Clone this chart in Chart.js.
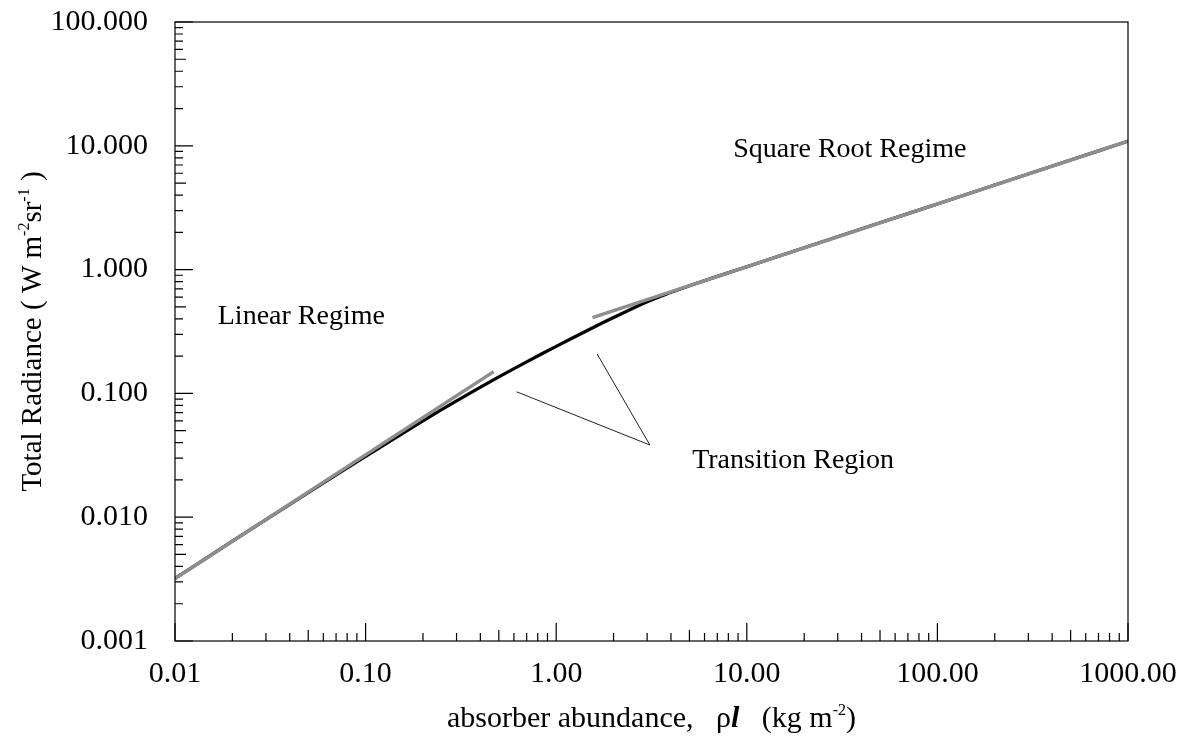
<!DOCTYPE html>
<html>
<head>
<meta charset="utf-8">
<script src="https://cdn.jsdelivr.net/npm/chart.js@4/dist/chart.umd.min.js"></script>
<style>
  body { margin: 0; background: #fff; }
  #wrap { width: 1183px; height: 740px; }
</style>
</head>
<body>
<div id="wrap"><canvas id="radianceChart" width="1183" height="740"></canvas></div>
<script>
// curve of growth: total radiance vs absorber abundance
const abundance = [0.01, 0.02, 0.05, 0.1, 0.2, 0.3, 0.5, 0.7, 1.0, 1.5, 2.0, 3.0, 4.0, 5.0, 10, 20, 50, 100, 200, 500, 1000];
const radiance = [0.0032, 0.0064, 0.0158, 0.031, 0.060, 0.087, 0.136, 0.18, 0.24, 0.33, 0.41, 0.55, 0.655, 0.742, 1.055, 1.50, 2.39, 3.39, 4.82, 7.67, 10.9];

// asymptotes
const linearX = [0.01, 0.47];
const linearY = [0.0032, 0.150];
const sqrtX = [1.55, 1000];
const sqrtY = [0.41, 10.9];

// pointer lines for the transition label
const pointerAX = [0.62, 3.1];
const pointerAY = [0.103, 0.0383];
const pointerBX = [1.64, 3.1];
const pointerBY = [0.208, 0.0383];

const xTickValues = [0.01, 0.1, 1, 10, 100, 1000];
const xTickLabels = ['0.01', '0.10', '1.00', '10.00', '100.00', '1000.00'];
const yTickValues = [0.001, 0.01, 0.1, 1, 10, 100];
const yTickLabels = ['0.001', '0.010', '0.100', '1.000', '10.000', '100.000'];

const notes = [
    { text: 'Linear Regime', x: 0.046, y: 0.42 },
    { text: 'Square Root Regime', x: 34.7, y: 9.25 },
    { text: 'Transition Region', x: 17.5, y: 0.0284 }
];

const FONT = '"Liberation Serif", "Times New Roman", serif';

function pts(xs, ys) {
    return xs.map((x, i) => ({ x: x, y: ys[i] }));
}

// inward log ticks, frame, notes and axis titles
const decorations = {
    id: 'decorations',
    afterDraw(chart) {
        const ctx = chart.ctx;
        const a = chart.chartArea;
        const xs = chart.scales.x, ys = chart.scales.y;
        ctx.save();
        ctx.strokeStyle = '#000';
        ctx.lineWidth = 1.2;
        ctx.strokeRect(a.left, a.top, a.right - a.left, a.bottom - a.top);

        ctx.beginPath();
        for (let d = -2; d <= 3; d++) {
            for (let k = 1; k <= 9; k++) {
                const v = k * Math.pow(10, d);
                if (v > 1000.0001) break;
                const px = xs.getPixelForValue(v);
                const len = k === 1 ? 18 : (k === 5 ? 11 : 8);
                ctx.moveTo(px, a.bottom);
                ctx.lineTo(px, a.bottom - len);
            }
        }
        for (let d = -3; d <= 2; d++) {
            for (let k = 1; k <= 9; k++) {
                const v = k * Math.pow(10, d);
                if (v > 100.0001) break;
                const py = ys.getPixelForValue(v);
                const len = k === 1 ? 18 : (k === 5 ? 11 : 8);
                ctx.moveTo(a.left, py);
                ctx.lineTo(a.left + len, py);
            }
        }
        ctx.stroke();

        ctx.fillStyle = '#000';
        ctx.font = '28px ' + FONT;
        ctx.textAlign = 'center';
        ctx.textBaseline = 'middle';
        notes.forEach(n => {
            ctx.fillText(n.text, xs.getPixelForValue(n.x), ys.getPixelForValue(n.y));
        });

        // x title
        const xParts = [
            { t: 'absorber abundance,   \u03c1', f: '30px ' + FONT },
            { t: 'l', f: 'italic bold 30px ' + FONT },
            { t: '   (kg m', f: '30px ' + FONT },
            { t: '-2', f: '16px ' + FONT, up: 12 },
            { t: ')', f: '30px ' + FONT }
        ];
        drawParts(ctx, xParts, (a.left + a.right) / 2, 727);

        // y title, rotated
        ctx.save();
        ctx.translate(41, (a.top + a.bottom) / 2);
        ctx.rotate(-Math.PI / 2);
        const yParts = [
            { t: 'Total Radiance ( W m', f: '29px ' + FONT },
            { t: '-2', f: '16px ' + FONT, up: 12 },
            { t: 'sr', f: '29px ' + FONT },
            { t: '-1', f: '16px ' + FONT, up: 12 },
            { t: ' )', f: '29px ' + FONT }
        ];
        drawParts(ctx, yParts, 0, 0);
        ctx.restore();
        ctx.restore();
    }
};

function drawParts(ctx, parts, cx, baseline) {
    let total = 0;
    parts.forEach(p => { ctx.font = p.f; p.w = ctx.measureText(p.t).width; total += p.w; });
    let x = cx - total / 2;
    ctx.textAlign = 'left';
    ctx.textBaseline = 'alphabetic';
    parts.forEach(p => {
        ctx.font = p.f;
        ctx.fillText(p.t, x, baseline - (p.up || 0));
        x += p.w;
    });
}

const ctx = document.getElementById('radianceChart').getContext('2d');
new Chart(ctx, {
    type: 'line',
    data: {
        datasets: [
            {
                data: pts(linearX, linearY),
                borderColor: '#8e8e8e',
                borderWidth: 3.5,
                pointRadius: 0
            },
            {
                data: pts(sqrtX, sqrtY),
                borderColor: '#8e8e8e',
                borderWidth: 3.5,
                pointRadius: 0
            },
            {
                data: pts(abundance, radiance),
                borderColor: '#000',
                borderWidth: 3.2,
                pointRadius: 0,
                tension: 0.35
            },
            {
                data: pts(pointerAX, pointerAY),
                borderColor: '#222',
                borderWidth: 1,
                pointRadius: 0
            },
            {
                data: pts(pointerBX, pointerBY),
                borderColor: '#222',
                borderWidth: 1,
                pointRadius: 0
            }
        ]
    },
    options: {
        responsive: false,
        animation: false,
        layout: { padding: { top: 22, right: 55, left: 0, bottom: 0 } },
        plugins: { legend: { display: false }, tooltip: { enabled: false } },
        scales: {
            x: {
                type: 'logarithmic',
                min: 0.01,
                max: 1000,
                grid: { display: false, drawTicks: false },
                border: { display: false },
                afterBuildTicks: s => { s.ticks = xTickValues.map(v => ({ value: v })); },
                afterFit: s => { s.height = 99; s.paddingLeft = 0; s.paddingRight = 0; },
                ticks: {
                    padding: 15,
                    maxRotation: 0,
                    color: '#000',
                    font: { family: FONT, size: 30 },
                    callback: (v, i) => xTickLabels[i]
                }
            },
            y: {
                type: 'logarithmic',
                min: 0.001,
                max: 100,
                grid: { display: false, drawTicks: false },
                border: { display: false },
                afterBuildTicks: s => { s.ticks = yTickValues.map(v => ({ value: v })); },
                afterFit: s => { s.width = 175; s.paddingTop = 0; s.paddingBottom = 0; },
                ticks: {
                    padding: 27,
                    color: '#000',
                    font: { family: FONT, size: 30 },
                    callback: (v, i) => yTickLabels[i]
                }
            }
        }
    },
    plugins: [decorations]
});
</script>
</body>
</html>
